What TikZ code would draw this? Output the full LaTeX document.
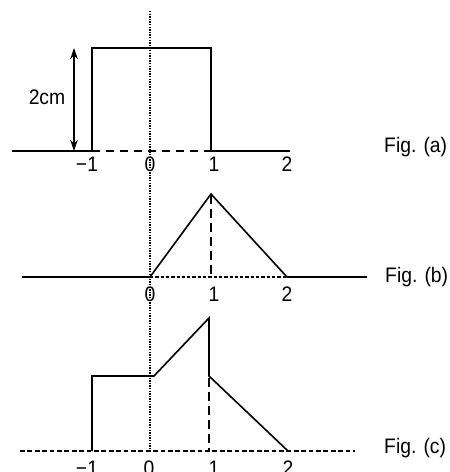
\documentclass[tikz,border=0pt]{standalone}
\usepackage{fontspec}
\setmainfont[FakeStretch=0.92]{Liberation Sans}
\usetikzlibrary{arrows.meta}
\begin{document}
\begin{tikzpicture}[x=1pt,y=-1pt,
  curve/.style={line width=1.6pt, line join=miter},
  dashbase/.style={line width=2pt, dash pattern=on 8pt off 6pt},
  dashvert/.style={line width=2pt, dash pattern=on 9pt off 5pt},
  dashaxis/.style={line width=2pt, dash pattern=on 4.7pt off 2.7pt},
  dotbase/.style={line width=1.5pt, dash pattern=on 3.3pt off 2pt},
  dotvert/.style={line width=1.3pt, dash pattern=on 1.3pt off 1.3pt},
  dimarrow/.style={line width=1.6pt, {Stealth[length=11pt,width=7.5pt]}-{Stealth[length=11pt,width=7.5pt]}},
  lbl/.style={inner sep=0pt, font=\fontsize{21}{23}\selectfont}]
\clip (0,0) rectangle (450,472);
\useasboundingbox (0,0) rectangle (450,472);

% vertical dotted axis
\draw[dotvert] (150,11) -- (150,451);

% ---------- Fig (a)
\draw[curve] (12,151) -- (92,151) -- (92,48) -- (211,48) -- (211,151) -- (290,151);
\draw[dashbase] (92,151) -- (211,151);
\draw[dimarrow] (74,48) -- (74,151);
\node[lbl] (cm) at (47,97) {2cm};
\node[lbl] (a-m1) at (87,164.5) {−1};
\node[lbl] (a-0) at (150,164.5) {0};
\node[lbl] (a-1) at (214,164.5) {1};
\node[lbl] (a-2) at (287,164.5) {2};
\node[lbl, anchor=west] (figa) at (384,147) {Fig. (a)};

% ---------- Fig (b)
\draw[curve] (22,277) -- (150,277) -- (211,194) -- (287,277) -- (367,277);
\draw[dotbase] (150,277) -- (287,277);
\draw[dashvert] (211,195) -- (211,277);
\node[lbl] (b-0) at (150,294) {0};
\node[lbl] (b-1) at (214,294) {1};
\node[lbl] (b-2) at (287,294) {2};
\node[lbl, anchor=west] (figb) at (385,277) {Fig. (b)};

% ---------- Fig (c)
\draw[dashaxis] (20,451) -- (355,451);
\draw[curve] (92,451) -- (92,376) -- (154,376) -- (209,318) -- (209,376) -- (288,451);
\draw[dashvert] (209,378) -- (209,451);
\node[lbl] (c-m1) at (87,468) {−1};
\node[lbl] (c-0) at (149,468) {0};
\node[lbl] (c-1) at (214,468) {1};
\node[lbl] (c-2) at (288,468) {2};
\node[lbl, anchor=west] (figc) at (384,448) {Fig. (c)};
\end{tikzpicture}
\end{document}
